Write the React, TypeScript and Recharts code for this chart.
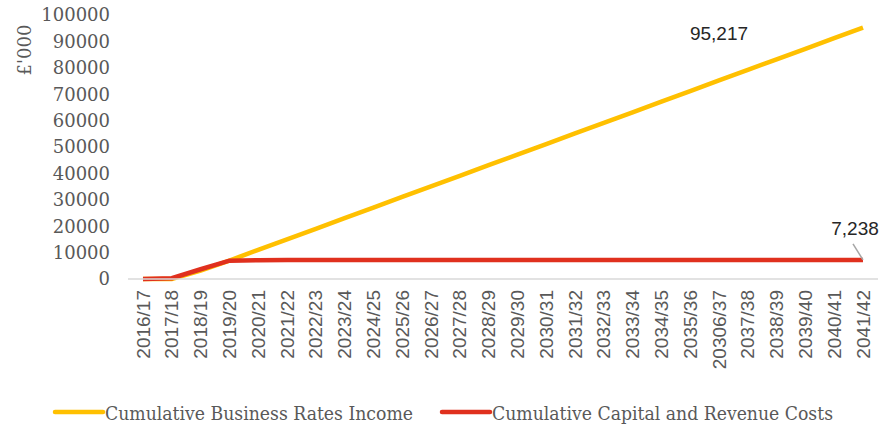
import React from 'react';
import { LineChart, Line, XAxis, YAxis, Legend, LabelList } from 'recharts';

const categories = [
  '2016/17', '2017/18', '2018/19', '2019/20', '2020/21', '2021/22', '2022/23',
  '2023/24', '2024/25', '2025/26', '2026/27', '2027/28', '2028/29', '2029/30',
  '2030/31', '2031/32', '2032/33', '2033/34', '2034/35', '2035/36', '20306/37',
  '2037/38', '2038/39', '2039/40', '2040/41', '2041/42',
];

const businessRatesIncome = [
  0, 0, 3200, 7000, 11050, 15000, 19000, 23050, 27000, 31100, 35100, 39100, 43100,
  47100, 51100, 55150, 59150, 63150, 67150, 71200, 75200, 79200, 83200, 87200, 91200, 95217,
];

const capitalRevenueCosts = [
  0, 300, 3700, 6950, 7120, 7238, 7238, 7238, 7238, 7238, 7238, 7238, 7238,
  7238, 7238, 7238, 7238, 7238, 7238, 7238, 7238, 7238, 7238, 7238, 7238, 7238,
];

const yTicks = [0, 10000, 20000, 30000, 40000, 50000, 60000, 70000, 80000, 90000, 100000];

const seriesNames = ['Cumulative Business Rates Income', 'Cumulative Capital and Revenue Costs'];
const yAxisTitle = "£'000";

const data = categories.map((period, i) => ({
  period,
  income: businessRatesIncome[i],
  costs: capitalRevenueCosts[i],
}));

const LAST = categories.length - 1;
const SANS = "'Liberation Sans', Arial, sans-serif";
const SERIF = "'DejaVu Serif', Georgia, serif";
const YELLOW = '#FFC000';
const RED = '#E0301E';

const XTick = (props: any) => {
  const { x, y, payload } = props;
  const ty = y + 3;
  return (
    <text
      x={x}
      y={ty}
      transform={`rotate(-90, ${x}, ${ty})`}
      textAnchor="end"
      dominantBaseline="central"
      fill="#595959"
      fontFamily={SANS}
      fontSize={19}
    >
      {payload.value}
    </text>
  );
};

const YTitle = (props: any) => {
  const vb = props.viewBox || { x: 0, y: 0 };
  const cx = vb.x + 24;
  const cy = vb.y + 35;
  return (
    <text
      x={cx}
      y={cy}
      transform={`rotate(-90, ${cx}, ${cy})`}
      textAnchor="middle"
      dominantBaseline="central"
      fill="#595959"
      fontFamily={SERIF}
      fontSize={18}
    >
      {yAxisTitle}
    </text>
  );
};

const IncomeEndLabel = (props: any) => {
  const { x, y, value, index } = props;
  if (index !== LAST) return null;
  return (
    <text
      x={x - 144}
      y={y + 6}
      textAnchor="middle"
      dominantBaseline="central"
      fill="#262626"
      fontFamily={SANS}
      fontSize={19}
    >
      {Number(value).toLocaleString('en-GB')}
    </text>
  );
};

const CostsEndLabel = (props: any) => {
  const { x, y, value, index } = props;
  if (index !== LAST) return null;
  return (
    <g>
      <line x1={x - 10} y1={y - 16} x2={x} y2={y} stroke="#a6a6a6" strokeWidth={1.5} />
      <text
        x={x - 8}
        y={y - 31}
        textAnchor="middle"
        dominantBaseline="central"
        fill="#262626"
        fontFamily={SANS}
        fontSize={19}
      >
        {Number(value).toLocaleString('en-GB')}
      </text>
    </g>
  );
};

const legendLayout = [
  { lineX: 55, textX: 105, len: 308 },
  { lineX: 442, textX: 492, len: 341 },
];

const renderLegend = (props: any) => {
  const payload = props.payload || [];
  return (
    <svg width={882} height={30} style={{ display: 'block' }}>
      {payload.map((p: any, i: number) => {
        const l = legendLayout[i] || legendLayout[0];
        return (
          <g key={i}>
            <line x1={l.lineX} y1={17} x2={l.lineX + 48} y2={17} stroke={p.color} strokeWidth={4.5} strokeLinecap="round" />
            <text
              x={l.textX}
              y={25}
              fill="#595959"
              fontFamily={SERIF}
              fontSize={18}
              textLength={l.len}
              lengthAdjust="spacingAndGlyphs"
            >
              {p.value}
            </text>
          </g>
        );
      })}
    </svg>
  );
};

export default function App() {
  return (
    <div style={{ position: 'absolute', left: 0, top: 0, width: 882, height: 425, background: '#fff' }}>
      <LineChart
        width={882}
        height={425}
        data={data}
        margin={{ top: 15, right: 4, left: 0, bottom: 0 }}
      >
        <XAxis
          dataKey="period"
          interval={0}
          height={116}
          padding={{ left: 15, right: 15 }}
          tickLine={false}
          axisLine={{ stroke: '#d9d9d9', strokeWidth: 1.5 }}
          tick={<XTick />}
        />
        <YAxis
          domain={[0, 100000]}
          ticks={yTicks}
          width={128}
          axisLine={false}
          tickLine={false}
          tickSize={0}
          tickMargin={18}
          tick={{ fill: '#595959', fontFamily: SERIF, fontSize: 18 }}
          label={<YTitle />}
        />
        <Legend
          verticalAlign="bottom"
          content={renderLegend}
          wrapperStyle={{ left: 0, bottom: 0, width: 882, height: 30 }}
        />
        <Line
          type="linear"
          dataKey="income"
          name={seriesNames[0]}
          stroke={YELLOW}
          strokeWidth={4.5}
          dot={false}
          isAnimationActive={false}
        >
          <LabelList dataKey="income" content={<IncomeEndLabel />} />
        </Line>
        <Line
          type="linear"
          dataKey="costs"
          name={seriesNames[1]}
          stroke={RED}
          strokeWidth={4.5}
          dot={false}
          isAnimationActive={false}
        >
          <LabelList dataKey="costs" content={<CostsEndLabel />} />
        </Line>
      </LineChart>
    </div>
  );
}
